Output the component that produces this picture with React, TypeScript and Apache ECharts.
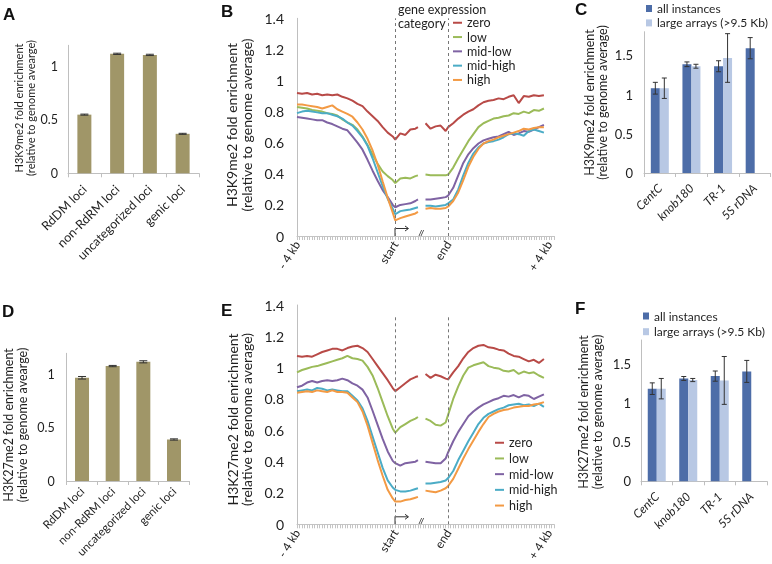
import React, { useEffect, useRef } from 'react';
import * as echarts from 'echarts';

// ---------- data ----------
const locusCats = ['RdDM loci', 'non-RdRM loci', 'uncategorized loci', 'genic loci'];
const k9Loci = [0.55, 1.12, 1.11, 0.37];
const k9LociErr = [0.005, 0.006, 0.006, 0.005];
const k27Loci = [0.97, 1.08, 1.12, 0.39];
const k27LociErr = [0.012, 0.006, 0.01, 0.006];

const repeatCats = ['CentC', 'knob180', 'TR-1', '5S rDNA'];
const repeatSeries = ['all instances', 'large arrays (>9.5 Kb)'];
const k9All = [1.08, 1.385, 1.36, 1.59];
const k9AllErr = [0.075, 0.03, 0.07, 0.135];
const k9Large = [1.08, 1.36, 1.465, null];
const k9LargeErr = [0.13, 0.025, 0.31, null];
const k27All = [1.18, 1.31, 1.34, 1.4];
const k27AllErr = [0.074, 0.025, 0.065, 0.14];
const k27Large = [1.18, 1.29, 1.285, null];
const k27LargeErr = [0.13, 0.02, 0.305, null];

const exprCats = ['zero', 'low', 'mid-low', 'mid-high', 'high'];
// bin positions (-4 kb = 0, start = 39, end = 60, +4 kb = 100); 49.5 is the break
const binPos = [0, 2, 4, 6, 8, 10, 12, 14, 16, 18, 20, 22, 24, 26, 28, 30, 32, 34, 36, 38, 39,
  41, 43, 45, 47, 48, 49.5, 51, 53, 55, 57, 59, 60,
  62, 64, 66, 68, 70, 72, 74, 76, 78, 80, 82, 84, 86, 88, 90, 92, 94, 96, 98];
const profileTicks: Record<number, string> = { 0: '- 4 kb', 39: 'start', 60: 'end', 100: '+ 4 kb' };

const k9Zero = [0.92, 0.915, 0.92, 0.91, 0.915, 0.905, 0.91, 0.905, 0.91, 0.895, 0.885, 0.87, 0.85, 0.835, 0.8, 0.77, 0.74, 0.7, 0.665, 0.64, 0.62,
  0.66, 0.65, 0.685, 0.69, 0.7, null, 0.725, 0.69, 0.705, 0.71, 0.675, 0.7,
  0.725, 0.755, 0.78, 0.8, 0.815, 0.84, 0.86, 0.87, 0.875, 0.885, 0.88, 0.895, 0.905, 0.855, 0.9, 0.895, 0.905, 0.9, 0.905];
const k9Low = [0.83, 0.825, 0.82, 0.81, 0.805, 0.8, 0.79, 0.785, 0.775, 0.75, 0.73, 0.715, 0.685, 0.64, 0.585, 0.525, 0.465, 0.415, 0.385, 0.36, 0.34,
  0.37, 0.375, 0.37, 0.385, 0.39, null, 0.395, 0.39, 0.39, 0.39, 0.39, 0.395,
  0.44, 0.5, 0.555, 0.61, 0.655, 0.7, 0.725, 0.74, 0.755, 0.76, 0.77, 0.775, 0.79, 0.785, 0.8, 0.79, 0.81, 0.805, 0.82];
const k9MidLow = [0.765, 0.76, 0.755, 0.75, 0.745, 0.745, 0.73, 0.72, 0.705, 0.69, 0.68, 0.64, 0.6, 0.555, 0.49, 0.42, 0.355, 0.295, 0.25, 0.2, 0.185,
  0.2, 0.205, 0.21, 0.225, 0.235, null, 0.235, 0.235, 0.24, 0.245, 0.25, 0.26,
  0.31, 0.39, 0.47, 0.525, 0.565, 0.595, 0.615, 0.625, 0.635, 0.64, 0.655, 0.67, 0.65, 0.66, 0.675, 0.67, 0.685, 0.7, 0.715];
const k9MidHigh = [0.79, 0.8, 0.805, 0.8, 0.795, 0.79, 0.79, 0.78, 0.77, 0.755, 0.73, 0.71, 0.675, 0.635, 0.58, 0.5, 0.41, 0.32, 0.24, 0.175, 0.14,
  0.16, 0.165, 0.17, 0.18, 0.185, null, 0.195, 0.195, 0.19, 0.195, 0.2, 0.21,
  0.235, 0.3, 0.39, 0.47, 0.53, 0.57, 0.595, 0.605, 0.61, 0.62, 0.635, 0.655, 0.66, 0.655, 0.645, 0.675, 0.685, 0.675, 0.665];
const k9High = [0.845, 0.845, 0.84, 0.835, 0.83, 0.82, 0.83, 0.84, 0.815, 0.8, 0.785, 0.767, 0.73, 0.685, 0.625, 0.55, 0.46, 0.35, 0.245, 0.15, 0.1,
  0.115, 0.125, 0.135, 0.145, 0.155, null, 0.175, 0.18, 0.175, 0.175, 0.18, 0.19,
  0.225, 0.28, 0.36, 0.445, 0.51, 0.56, 0.595, 0.61, 0.62, 0.635, 0.645, 0.655, 0.665, 0.675, 0.69, 0.685, 0.695, 0.7, 0.7];

const k27Zero = [1.075, 1.07, 1.075, 1.07, 1.085, 1.1, 1.11, 1.12, 1.12, 1.11, 1.125, 1.135, 1.14, 1.125, 1.1, 1.055, 1.01, 0.965, 0.92, 0.87, 0.85,
  0.875, 0.9, 0.925, 0.94, 0.945, null, 0.96, 0.935, 0.955, 0.945, 0.93, 0.925,
  0.97, 1.01, 1.06, 1.1, 1.125, 1.14, 1.145, 1.13, 1.125, 1.115, 1.11, 1.09, 1.075, 1.07, 1.055, 1.04, 1.05, 1.03, 1.055];
const k27Low = [0.97, 0.985, 0.995, 1.005, 1.01, 1.02, 1.03, 1.04, 1.05, 1.06, 1.075, 1.06, 1.055, 1.045, 1.005, 0.95, 0.87, 0.78, 0.69, 0.61, 0.585,
  0.62, 0.64, 0.66, 0.675, 0.685, null, 0.675, 0.66, 0.635, 0.63, 0.65, 0.7,
  0.8, 0.88, 0.95, 1.0, 1.015, 1.025, 1.035, 1.01, 1.0, 0.995, 0.98, 0.975, 0.985, 0.96, 0.975, 0.965, 0.97, 0.95, 0.935];
const k27MidLow = [0.875, 0.885, 0.905, 0.915, 0.905, 0.915, 0.92, 0.915, 0.92, 0.93, 0.92, 0.9, 0.885, 0.86, 0.81, 0.725, 0.635, 0.545, 0.465, 0.405, 0.39,
  0.375, 0.39, 0.395, 0.4, 0.41, null, 0.4, 0.395, 0.39, 0.39, 0.42, 0.46,
  0.53, 0.59, 0.64, 0.69, 0.72, 0.745, 0.765, 0.78, 0.795, 0.805, 0.82, 0.815, 0.825, 0.81, 0.825, 0.82, 0.8, 0.815, 0.83];
const k27MidHigh = [0.85, 0.855, 0.86, 0.855, 0.87, 0.865, 0.855, 0.86, 0.855, 0.85, 0.85, 0.82, 0.79, 0.74, 0.66, 0.56, 0.46, 0.36, 0.28, 0.235, 0.22,
  0.21, 0.21, 0.215, 0.225, 0.23, null, 0.26, 0.26, 0.265, 0.27, 0.28, 0.295,
  0.34, 0.41, 0.47, 0.53, 0.585, 0.64, 0.68, 0.705, 0.72, 0.735, 0.745, 0.76, 0.765, 0.77, 0.76, 0.765, 0.755, 0.77, 0.75];
const k27High = [0.84, 0.845, 0.85, 0.845, 0.855, 0.85, 0.845, 0.855, 0.845, 0.845, 0.84, 0.81, 0.78, 0.72, 0.63, 0.52, 0.41, 0.31, 0.22, 0.165, 0.145,
  0.145, 0.155, 0.16, 0.17, 0.175, null, 0.215, 0.21, 0.205, 0.215, 0.23, 0.245,
  0.29, 0.355, 0.42, 0.48, 0.535, 0.59, 0.64, 0.685, 0.705, 0.72, 0.73, 0.735, 0.745, 0.75, 0.755, 0.755, 0.765, 0.77, 0.78];

// ---------- styles ----------
const FONT = 'Lato';
const TXT = '#1f1f1f';
const AXIS = '#bfbfbf';
const olive = '#a09668';
const blueDark = '#4d6da8';
const blueLight = '#b8c8e4';
const lineColors = ['#b84a47', '#9bbb59', '#7f63a3', '#4bacc6', '#f39a44'];

const errRender = (cap: number) => (params: any, api: any) => {
  const x = api.value(0);
  const v = api.value(1);
  const e = api.value(2);
  const off = api.value(3);
  const p1 = api.coord([x, v + e]);
  const p2 = api.coord([x, v - e]);
  const cx = p1[0] + off;
  const style = { stroke: '#333', lineWidth: 1 };
  return {
    type: 'group',
    children: [
      { type: 'line', shape: { x1: cx, y1: p1[1], x2: cx, y2: p2[1] }, style },
      { type: 'line', shape: { x1: cx - cap, y1: p1[1], x2: cx + cap, y2: p1[1] }, style },
      { type: 'line', shape: { x1: cx - cap, y1: p2[1], x2: cx + cap, y2: p2[1] }, style },
    ],
  };
};

const errData = (vals: (number | null)[], errs: (number | null)[], off: number) =>
  vals.map((v, i) => (v == null ? null : [i, v, errs[i], off])).filter((d) => d) as number[][];

const stepFormatter = (step: number) => (v: number) => {
  const r = v / step;
  return Math.abs(r - Math.round(r)) < 1e-6 ? String(+v.toFixed(2)) : '';
};

const catXAxis = (gi: number, cats: string[], italic: boolean, fontSize: number, margin: number) => ({
  type: 'category', gridIndex: gi, data: cats,
  axisLine: { lineStyle: { color: AXIS, width: 1 } },
  axisTick: { show: true, length: 4, lineStyle: { color: AXIS } },
  axisLabel: {
    rotate: 45, interval: 0, fontSize, color: TXT, fontFamily: FONT, fontStyle: italic ? 'italic' : 'normal', margin,
  },
  splitLine: { show: false },
});

const valYAxis = (gi: number, max: number, interval: number, fontSize: number, margin: number) => ({
  type: 'value', gridIndex: gi, min: 0, max, interval,
  axisLine: { show: true, lineStyle: { color: AXIS, width: 1 } },
  axisTick: { show: false },
  splitLine: { show: false },
  axisLabel: { fontSize, color: TXT, fontFamily: FONT, margin, formatter: stepFormatter(interval), showMaxLabel: true },
});

const profXAxis = (gi: number) => ({
  type: 'value', gridIndex: gi, min: 0, max: 102, interval: 1,
  axisLine: { lineStyle: { color: '#c4c4c4', width: 1 } },
  axisTick: { show: true, length: 4, lineStyle: { color: '#c4c4c4' } },
  splitLine: { show: false },
  axisLabel: {
    rotate: 58, fontSize: 12, color: TXT, fontFamily: FONT, margin: 6,
    formatter: (v: number) => profileTicks[Math.round(v)] !== undefined && Math.abs(v - Math.round(v)) < 1e-6 ? profileTicks[Math.round(v)] : '',
  },
});

const profSeries = (gi: number, sets: (number | null)[][], top: number) =>
  sets.map((vals, k) => ({
    name: exprCats[k], type: 'line', xAxisIndex: gi, yAxisIndex: gi,
    data: binPos.map((x, i) => [x, vals[i]]),
    showSymbol: false, symbol: 'none', connectNulls: false,
    lineStyle: { width: 2, color: lineColors[k] },
    itemStyle: { color: lineColors[k] },
    silent: true,
    markLine: k === 0 ? {
      silent: true, symbol: ['none', 'none'], label: { show: false },
      lineStyle: { type: [3, 3], color: '#777', width: 1 },
      data: [
        [{ coord: [39, 0] }, { coord: [39, top] }],
        [{ coord: [60, 0] }, { coord: [60, top] }],
      ],
    } : undefined,
  }));

const yTitle = (x: number, y: number, text: string, fontSize: number, lineHeight: number) => ({
  type: 'text', x, y, rotation: Math.PI / 2, silent: true,
  style: { text, fontSize, lineHeight, fontFamily: FONT, fill: TXT, align: 'center', verticalAlign: 'middle' },
});

const letter = (x: number, y: number, text: string) => ({
  type: 'text', x, y, silent: true,
  style: { text, fontSize: 17, fontWeight: 'bold', fontFamily: 'Liberation Sans', fill: '#111', align: 'left', verticalAlign: 'middle' },
});

const tssArrow = (yBase: number) => [
  { type: 'line', silent: true, shape: { x1: 395, y1: yBase - 8, x2: 395, y2: yBase }, style: { stroke: '#333', lineWidth: 1 } },
  { type: 'line', silent: true, shape: { x1: 395, y1: yBase - 7.5, x2: 408, y2: yBase - 7.5 }, style: { stroke: '#333', lineWidth: 1 } },
  { type: 'polyline', silent: true, shape: { points: [[405, yBase - 10], [408.5, yBase - 7.5], [405, yBase - 5]] }, style: { stroke: '#333', lineWidth: 1, fill: 'none' } },
  {
    type: 'text', x: 421, y: yBase - 2.5, silent: true,
    style: { text: '//', fontSize: 9, fontStyle: 'italic', fontWeight: 'bold', fontFamily: FONT, fill: '#444', align: 'center', verticalAlign: 'middle' },
  },
];

export default function App() {
  const ref = useRef<HTMLDivElement>(null);
  useEffect(() => {
    if (!ref.current) return;
    const chart = echarts.init(ref.current, undefined, { renderer: 'svg' });
    const option: any = {
      animation: false,
      textStyle: { fontFamily: FONT },
      grid: [
        { left: 68, top: 45.3, width: 131, height: 128, outerBoundsMode: 'none', containLabel: false },
        { left: 297, top: 18.3, width: 257, height: 217.7, outerBoundsMode: 'none', containLabel: false },
        { left: 644, top: 31.7, width: 126.5, height: 141.3, outerBoundsMode: 'none', containLabel: false },
        { left: 66.7, top: 353.3, width: 122.6, height: 127.7, outerBoundsMode: 'none', containLabel: false },
        { left: 297, top: 305, width: 257, height: 219.3, outerBoundsMode: 'none', containLabel: false },
        { left: 641, top: 340, width: 126, height: 141.3, outerBoundsMode: 'none', containLabel: false },
      ],
      xAxis: [
        catXAxis(0, locusCats, false, 12.5, 14),
        profXAxis(1),
        catXAxis(2, repeatCats, true, 12, 13),
        catXAxis(3, locusCats, false, 11.5, 8),
        profXAxis(4),
        catXAxis(5, repeatCats, true, 12, 13),
      ],
      yAxis: [
        valYAxis(0, 1.2, 0.5, 12.5, 10),
        valYAxis(1, 1.4, 0.2, 14, 13),
        valYAxis(2, 1.8, 0.5, 13, 11),
        valYAxis(3, 1.2, 0.5, 12.5, 12),
        valYAxis(4, 1.4, 0.2, 14, 13),
        valYAxis(5, 1.8, 0.5, 13, 10),
      ],
      legend: [
        {
          data: exprCats, orient: 'vertical', left: 453, top: 16, padding: 0, itemGap: 0.8,
          icon: 'rect', itemWidth: 9, itemHeight: 2, selectedMode: false,
          textStyle: { fontSize: 12.5, lineHeight: 13.5, color: TXT, fontFamily: FONT },
        },
        {
          data: exprCats, orient: 'vertical', left: 495, top: 436, padding: 0, itemGap: 2.2,
          icon: 'rect', itemWidth: 9, itemHeight: 2, selectedMode: false,
          textStyle: { fontSize: 12.5, lineHeight: 13.5, color: TXT, fontFamily: FONT },
        },
        {
          data: repeatSeries, orient: 'vertical', left: 646, top: 1.5, padding: 0, itemGap: 0.4,
          icon: 'rect', itemWidth: 6, itemHeight: 7, selectedMode: false,
          textStyle: { fontSize: 12, lineHeight: 14, color: TXT, fontFamily: FONT },
        },
        {
          data: repeatSeries, orient: 'vertical', left: 643, top: 309, padding: 0, itemGap: 1.7,
          icon: 'rect', itemWidth: 6, itemHeight: 7, selectedMode: false,
          textStyle: { fontSize: 12, lineHeight: 14, color: TXT, fontFamily: FONT },
        },
      ],
      series: [
        { type: 'bar', xAxisIndex: 0, yAxisIndex: 0, data: k9Loci, barWidth: 14, itemStyle: { color: olive }, silent: true },
        { type: 'custom', xAxisIndex: 0, yAxisIndex: 0, renderItem: errRender(4), data: errData(k9Loci, k9LociErr, 0), encode: { x: 0, y: 1 }, z: 10, silent: true },
        ...profSeries(1, [k9Zero, k9Low, k9MidLow, k9MidHigh, k9High], 1.4),
        { name: repeatSeries[0], type: 'bar', xAxisIndex: 2, yAxisIndex: 2, data: k9All, barWidth: 9, barGap: '0%', itemStyle: { color: blueDark }, silent: true },
        { name: repeatSeries[1], type: 'bar', xAxisIndex: 2, yAxisIndex: 2, data: k9Large, barWidth: 9, barGap: '0%', itemStyle: { color: blueLight }, silent: true },
        { type: 'custom', xAxisIndex: 2, yAxisIndex: 2, renderItem: errRender(2.5), data: [...errData(k9All, k9AllErr, -4.5), ...errData(k9Large, k9LargeErr, 4.5)], encode: { x: 0, y: 1 }, z: 10, silent: true },
        { type: 'bar', xAxisIndex: 3, yAxisIndex: 3, data: k27Loci, barWidth: 14, itemStyle: { color: olive }, silent: true },
        { type: 'custom', xAxisIndex: 3, yAxisIndex: 3, renderItem: errRender(4), data: errData(k27Loci, k27LociErr, 0), encode: { x: 0, y: 1 }, z: 10, silent: true },
        ...profSeries(4, [k27Zero, k27Low, k27MidLow, k27MidHigh, k27High], 1.34),
        { name: repeatSeries[0], type: 'bar', xAxisIndex: 5, yAxisIndex: 5, data: k27All, barWidth: 9, barGap: '0%', itemStyle: { color: blueDark }, silent: true },
        { name: repeatSeries[1], type: 'bar', xAxisIndex: 5, yAxisIndex: 5, data: k27Large, barWidth: 9, barGap: '0%', itemStyle: { color: blueLight }, silent: true },
        { type: 'custom', xAxisIndex: 5, yAxisIndex: 5, renderItem: errRender(2.5), data: [...errData(k27All, k27AllErr, -4.5), ...errData(k27Large, k27LargeErr, 4.5)], encode: { x: 0, y: 1 }, z: 10, silent: true },
      ],
      graphic: [
        letter(3, 14, 'A'), letter(221, 11.5, 'B'), letter(575, 9, 'C'),
        letter(2, 311, 'D'), letter(221, 310, 'E'), letter(575, 308.5, 'F'),
        yTitle(24, 108, 'H3K9me2 fold enrichment\n(relative to genome avearge)', 11, 12),
        yTitle(239, 125, 'H3K9me2 fold enrichment\n(relative to genome average)', 14, 15),
        yTitle(596, 102.5, 'H3K9me2 fold enrichment\n(relative to genome average)', 12.5, 13),
        yTitle(15.5, 425, 'H3K27me2 fold enrichment\n(relative to genome avearge)', 12.5, 14),
        yTitle(239.5, 419.5, 'H3K27me2 fold enrichment\n(relative to genome average)', 14, 14.5),
        yTitle(590, 412, 'H3K27me2 fold enrichment\n(relative to genome average)', 12.5, 14),
        {
          type: 'text', x: 398, y: 2, silent: true,
          style: { text: 'gene expression\ncategory', fontSize: 12.5, lineHeight: 14, fontFamily: FONT, fill: TXT, align: 'left', verticalAlign: 'top' },
        },
        ...tssArrow(236),
        ...tssArrow(524.3),
      ],
    };
    chart.setOption(option);
    return () => chart.dispose();
  }, []);
  return <div ref={ref} style={{ position: 'fixed', left: 0, top: 0, width: 772, height: 564 }} />;
}
